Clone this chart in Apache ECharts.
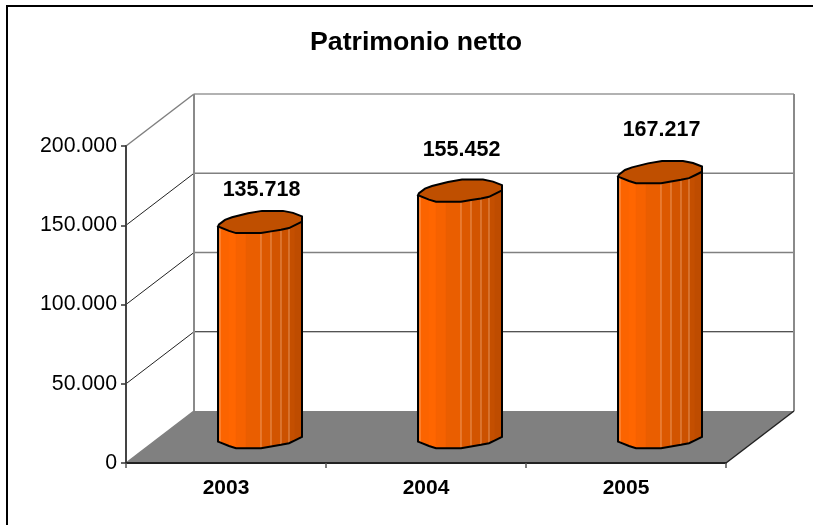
<!DOCTYPE html>
<html>
<head>
<meta charset="utf-8">
<style>html,body{margin:0;padding:0;background:#fff}#c{width:813px;height:525px}</style>
<script src="https://cdn.jsdelivr.net/npm/echarts@6/dist/echarts.min.js"></script>
</head>
<body>
<div id="c"></div>
<script>
var titleText = 'Patrimonio netto';
var categories = ['2003', '2004', '2005'];
var values = [135718, 155452, 167217];
var valueLabels = ['135.718', '155.452', '167.217'];
var yTicks = [0, 50000, 100000, 150000, 200000];
var yMax = 200000;
var yStep = 50000;

// Drawing style (pseudo-3D projection)
var FONT = '"Liberation Sans", Arial, sans-serif';
var DEPTH_X = 68, DEPTH_Y = -52;
var labelLift = [-31.5, -40.5, -42];
var gridColors = ['#808080', '#1a1a1a', '#808080', '#808080', '#999999'];
var diagColors = ['#808080', '#222222', '#222222', '#222222', '#808080'];
var topColor = '#BF4F00';
// footprint of a cylinder, relative to its centre
var rim = [[-42,4.6],[-41,2.6],[-35,-2],[-28,-4.6],[-12,-8.6],[2,-11],[23,-11],[33,-9],[42,-5.5],[42,-0.2],
           [35,3.3],[29,6.2],[21,7.8],[11,9.5],[1,11.2],[-14,11.2],[-24,11.2],[-31,9],[-42,4.6]];
// front arc and shading bands of the side
var front = [[-42,4.6],[-40,5.4],[-31,9],[-24,11.2],[-14,11.2],[1,11.2],[11,9.5],[21,7.8],[29,6.2],[35,3.3],[42,-0.2]];
var bands = ['#F46100','#FB6400','#FF6600','#F66200','#EA5E00','#DC5800','#D25400','#CB5100','#C44F00','#BE4C00'];
var sheen = [0,1,0,0,0,1,1,1,1,0,0];

function pts(cx, cy, list) { return list.map(function (p) { return [cx + p[0], cy + p[1]]; }); }

function renderWalls(params, api) {
  var r = params.coordSys;
  var x0 = r.x, x1 = r.x + r.width;
  var y0 = api.coord([0, 0])[1];
  var kids = [{
    type: 'polygon',
    shape: { points: [[x0, y0], [x1, y0], [x1 + DEPTH_X, y0 + DEPTH_Y], [x0 + DEPTH_X, y0 + DEPTH_Y]] },
    style: { fill: '#808080' }
  }];
  yTicks.forEach(function (t, i) {
    var y = api.coord([0, t])[1];
    kids.push({ type: 'line', shape: { x1: x0, y1: y, x2: x0 + DEPTH_X, y2: y + DEPTH_Y },
      style: { stroke: diagColors[i], lineWidth: i === 0 || i === 4 ? 1.5 : 1 } });
    if (i > 0) {
      kids.push({ type: 'line', shape: { x1: x0 + DEPTH_X, y1: y + DEPTH_Y, x2: x1 + DEPTH_X, y2: y + DEPTH_Y },
        style: { stroke: gridColors[i], lineWidth: i === 1 ? 1 : 1.5 } });
    }
  });
  var top = api.coord([0, yMax])[1];
  [x0 + DEPTH_X, x1 + DEPTH_X].forEach(function (x) {
    kids.push({ type: 'line', shape: { x1: x, y1: top + DEPTH_Y, x2: x, y2: y0 + DEPTH_Y },
      style: { stroke: '#8a8a8a', lineWidth: 2 } });
  });
  kids.push({ type: 'line', shape: { x1: x1, y1: y0, x2: x1 + DEPTH_X, y2: y0 + DEPTH_Y },
    style: { stroke: '#222222', lineWidth: 1.5 } });
  return { type: 'group', children: kids };
}

function renderCylinder(params, api) {
  var i = api.value(0), v = api.value(1);
  var b = api.coord([i, 0]), t = api.coord([i, v]);
  var cx = b[0] + DEPTH_X / 2;
  var by = b[1] + DEPTH_Y / 2, ty = t[1] + DEPTH_Y / 2;
  var kids = [];
  for (var k = 0; k < front.length - 1; k++) {
    var a = front[k], c = front[k + 1];
    kids.push({ type: 'polygon',
      shape: { points: [[cx + a[0], ty + a[1]], [cx + c[0], ty + c[1]], [cx + c[0], by + c[1]], [cx + a[0], by + a[1]]] },
      style: { fill: bands[k], stroke: bands[k], lineWidth: 0.5 } });
  }
  front.forEach(function (p, k) {
    if (sheen[k]) {
      kids.push({ type: 'line', shape: { x1: cx + p[0], y1: ty + p[1], x2: cx + p[0], y2: by + p[1] },
        style: { stroke: 'rgba(255,205,165,0.55)', lineWidth: 1 } });
    }
  });
  var outline = [[cx + front[0][0], ty + front[0][1]]].concat(pts(cx, by, front));
  outline.push([cx + front[front.length - 1][0], ty + front[front.length - 1][1]]);
  kids.push({ type: 'polyline', shape: { points: outline }, style: { stroke: '#000', lineWidth: 2, fill: 'none' } });
  kids.push({ type: 'polygon', shape: { points: pts(cx, ty, rim) }, style: { fill: topColor, stroke: '#000', lineWidth: 2 } });
  kids.push({ type: 'text', style: {
    x: cx + 1.5, y: ty + labelLift[i], text: valueLabels[i], fill: '#000',
    font: 'bold 21.5px ' + FONT, align: 'center', verticalAlign: 'middle' } });
  return { type: 'group', children: kids };
}

var chart = echarts.init(document.getElementById('c'), null, { renderer: 'canvas' });
chart.setOption({
  animation: false,
  backgroundColor: '#ffffff',
  title: { text: titleText, left: 411, top: 24, textAlign: 'center',
    textStyle: { fontFamily: FONT, fontWeight: 'bold', fontSize: 26.7, color: '#000' } },
  grid: { left: 126, top: 146, width: 600, height: 317, containLabel: false },
  xAxis: {
    type: 'category', data: categories, z: 10,
    axisLine: { lineStyle: { color: '#222', width: 2 } },
    axisTick: { show: true, length: 5, lineStyle: { color: '#555', width: 1.5 } },
    axisLabel: { margin: 15, color: '#000', fontFamily: FONT, fontWeight: 'bold', fontSize: 21 },
    splitLine: { show: false }
  },
  yAxis: {
    type: 'value', min: 0, max: yMax, interval: yStep, z: 10,
    axisLine: { show: true, lineStyle: { color: '#444', width: 2 } },
    axisTick: { show: true, length: 5, lineStyle: { color: '#333', width: 1.5 } },
    axisLabel: { margin: 9, color: '#000', fontFamily: FONT, fontSize: 21.3,
      formatter: function (v) { return String(v).replace(/\B(?=(\d{3})+$)/g, '.'); } },
    splitLine: { show: false }
  },
  graphic: [
    { type: 'line', silent: true, shape: { x1: 7, y1: 6, x2: 813, y2: 6 }, style: { stroke: '#000', lineWidth: 2 } },
    { type: 'line', silent: true, shape: { x1: 7, y1: 5, x2: 7, y2: 525 }, style: { stroke: '#000', lineWidth: 2 } }
  ],
  series: [
    { type: 'custom', coordinateSystem: 'cartesian2d', silent: true, z: 1, clip: false,
      renderItem: renderWalls, data: [[0, 0]] },
    { type: 'custom', coordinateSystem: 'cartesian2d', silent: true, z: 2, clip: false,
      renderItem: renderCylinder, encode: { x: 0, y: 1 },
      data: values.map(function (v, i) { return [i, v]; }) }
  ]
});
</script>
</body>
</html>
